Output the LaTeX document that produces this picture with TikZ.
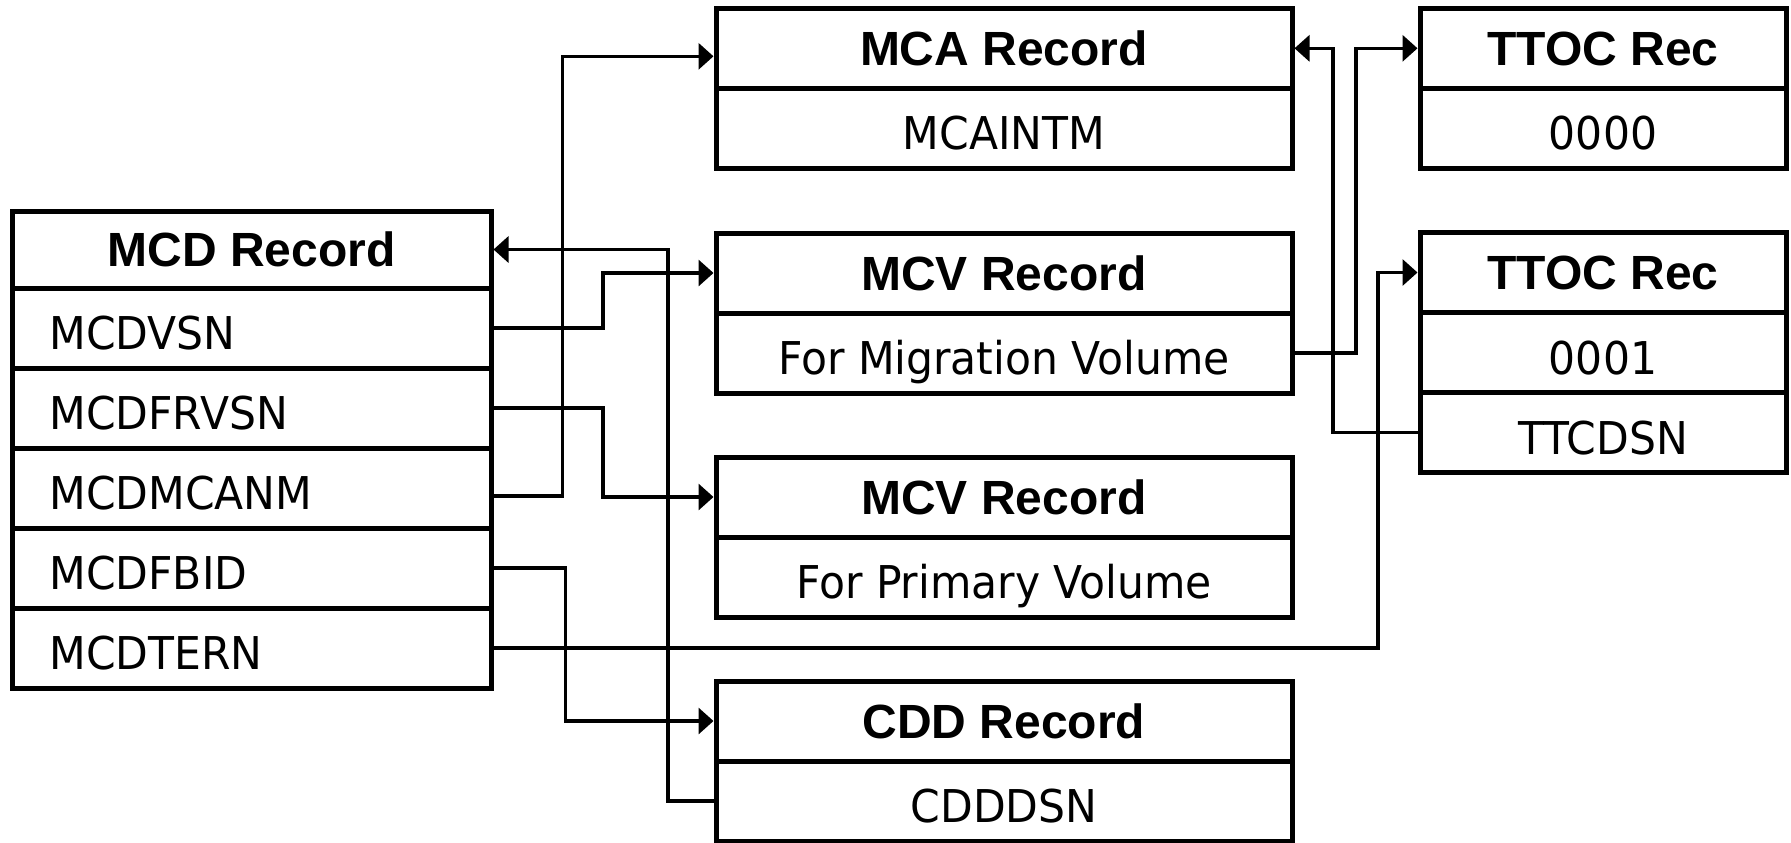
\documentclass[tikz,border=0pt]{standalone}
\usepackage{fontspec}
\setmainfont{Liberation Sans}
\newfontfamily\FieldFont[FakeStretch=0.94]{DejaVu Sans}
\usepackage{tikz}
\usetikzlibrary{arrows.meta}
\tikzstyle{Cell}=[draw,line width=2.5pt,inner sep=0pt,minimum height=40pt]
\tikzstyle{Head}=[Cell,font=\bfseries\fontsize{24pt}{28pt}\selectfont,
text height=17.2pt,text depth=0pt]
\tikzstyle{Field}=[Cell,font=\FieldFont\fontsize{22.6pt}{26pt}\selectfont,
text height=21.5pt,text depth=0pt]
\tikzstyle{FieldL}=[Field,align=left,text width=202pt,inner xsep=18.75pt]
\tikzstyle{Wide}=[minimum width=288pt]
\tikzstyle{Narrow}=[minimum width=183pt]
\tikzstyle{Edge}=[draw,line width=1.65pt,-{Triangle[length=7.5pt,width=13pt]}]

\begin{document}
\begin{tikzpicture}[x=0.5pt,y=-0.5pt]
        \useasboundingbox(0,0)rectangle(1791,842);
        \node[Head,minimum width=239.5pt,minimum height=38.5pt](MCD)
            at(251.50,249.50){MCD Record};
        \node[FieldL](MCD1)at(251.50,328.00){MCDVSN};
        \node[FieldL](MCD2)at(251.50,408.00){MCDFRVSN};
        \node[FieldL](MCD3)at(251.50,488.00){MCDMCANM};
        \node[FieldL](MCD4)at(251.50,568.00){MCDFBID};
        \node[FieldL](MCD5)at(251.50,648.00){MCDTERN};
        \node[Head,Wide](MCA)at(1004.00,48.30){MCA Record};
        \node[Field,Wide](MCA1)at(1004.00,128.30){MCAINTM};
        \node[Head,Wide](MCVM)at(1004.00,273.00){MCV Record};
        \node[Field,Wide](MCVM1)at(1004.00,353.00){For Migration Volume};
        \node[Head,Wide](MCVP)at(1004.00,497.00){MCV Record};
        \node[Field,Wide](MCVP1)at(1004.00,577.00){For Primary Volume};
        \node[Head,Wide](CDD)at(1004.00,721.00){CDD Record};
        \node[Field,Wide](CDD1)at(1004.00,801.00){CDDDSN};
        \node[Head,Narrow](TTA)at(1603.00,48.30){TTOC Rec};
        \node[Field,Narrow](TTA1)at(1603.00,128.30){0000};
        \node[Head,Narrow](TTB)at(1603.00,272.50){TTOC Rec};
        \node[Field,Narrow](TTB1)at(1603.00,352.50){0001};
        \node[Field,Narrow](TTB2)at(1603.00,432.50){TTCDSN};
        \coordinate(b1)at(603.00,0);
        \coordinate(b2)at(562.70,0);
        \coordinate(b3)at(565.40,0);
        \coordinate(b4)at(668.00,0);
        \coordinate(b5)at(1378.00,0);
        \coordinate(b6)at(1356.00,0);
        \coordinate(b7)at(1333.00,0);
        \coordinate(m3)at([yshift=-4pt]MCD3.east);
        \draw[Edge](MCD1.east)--(MCD1.east-|b1)|-(MCVM.west);
        \draw[Edge](MCD2.east)--(MCD2.east-|b1)|-(MCVP.west);
        \draw[Edge](m3)--(m3-|b2)|-([yshift=-4pt]MCA.west);
        \draw[Edge](MCD4.east)--(MCD4.east-|b3)|-(CDD.west);
        \draw[Edge](MCD5.east)--(MCD5.east-|b5)|-(TTB.west);
        \draw[Edge](CDD1.west)--(CDD1.west-|b4)|-(MCD.east);
        \draw[Edge](MCVM1.east)--(MCVM1.east-|b6)|-(TTA.west);
        \draw[Edge](TTB2.west)--(TTB2.west-|b7)|-(MCA.east);
    \end{tikzpicture}
\end{document}
